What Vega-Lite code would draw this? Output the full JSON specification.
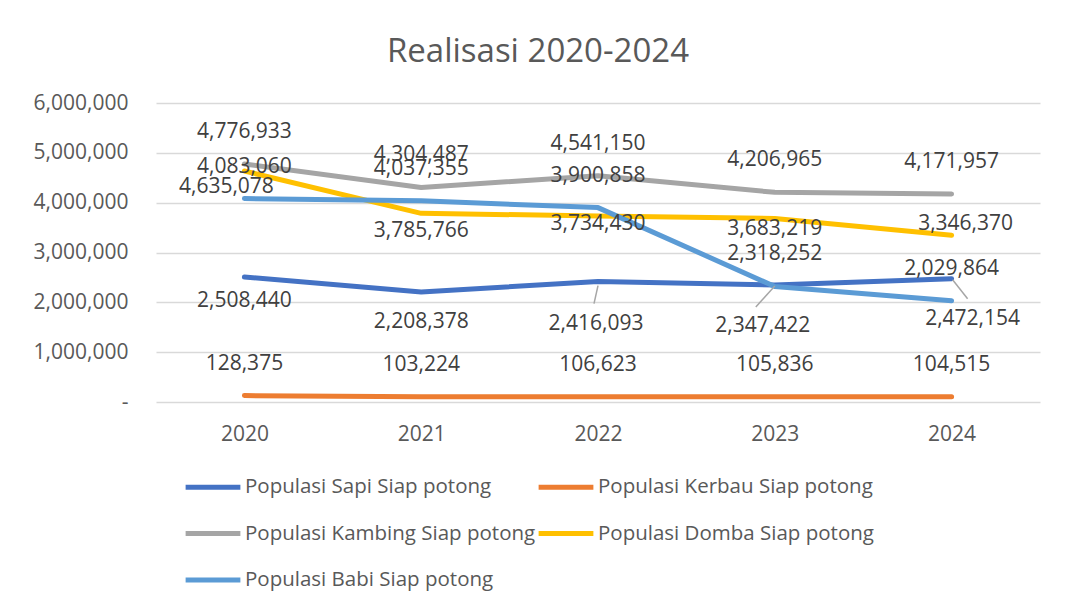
{
  "$schema": "https://vega.github.io/schema/vega-lite/v6.json",
  "width": 884,
  "height": 299,
  "autosize": "none",
  "padding": {"left": 156, "top": 103, "right": 26, "bottom": 205},
  "background": "white",
  "config": {
    "view": {"stroke": null},
    "font": "Open Sans",
    "text": {"font": "Open Sans"}
  },
  "title": {
    "text": "Realisasi 2020-2024",
    "font": "Open Sans",
    "fontSize": 33,
    "fontWeight": "normal",
    "color": "#595959",
    "anchor": "middle",
    "dx": -60,
    "dy": 44,
    "baseline": "alphabetic",
    "offset": 41
  },
  "data": {
    "values": [
      {"year": "2020", "animal": "Sapi", "series": "Populasi Sapi Siap potong", "value": 2508440},
      {"year": "2021", "animal": "Sapi", "series": "Populasi Sapi Siap potong", "value": 2208378},
      {"year": "2022", "animal": "Sapi", "series": "Populasi Sapi Siap potong", "value": 2416093},
      {"year": "2023", "animal": "Sapi", "series": "Populasi Sapi Siap potong", "value": 2347422},
      {"year": "2024", "animal": "Sapi", "series": "Populasi Sapi Siap potong", "value": 2472154},
      {"year": "2020", "animal": "Kerbau", "series": "Populasi Kerbau Siap potong", "value": 128375},
      {"year": "2021", "animal": "Kerbau", "series": "Populasi Kerbau Siap potong", "value": 103224},
      {"year": "2022", "animal": "Kerbau", "series": "Populasi Kerbau Siap potong", "value": 106623},
      {"year": "2023", "animal": "Kerbau", "series": "Populasi Kerbau Siap potong", "value": 105836},
      {"year": "2024", "animal": "Kerbau", "series": "Populasi Kerbau Siap potong", "value": 104515},
      {"year": "2020", "animal": "Kambing", "series": "Populasi Kambing Siap potong", "value": 4776933},
      {"year": "2021", "animal": "Kambing", "series": "Populasi Kambing Siap potong", "value": 4304487},
      {"year": "2022", "animal": "Kambing", "series": "Populasi Kambing Siap potong", "value": 4541150},
      {"year": "2023", "animal": "Kambing", "series": "Populasi Kambing Siap potong", "value": 4206965},
      {"year": "2024", "animal": "Kambing", "series": "Populasi Kambing Siap potong", "value": 4171957},
      {"year": "2020", "animal": "Domba", "series": "Populasi Domba Siap potong", "value": 4635078},
      {"year": "2021", "animal": "Domba", "series": "Populasi Domba Siap potong", "value": 3785766},
      {"year": "2022", "animal": "Domba", "series": "Populasi Domba Siap potong", "value": 3734430},
      {"year": "2023", "animal": "Domba", "series": "Populasi Domba Siap potong", "value": 3683219},
      {"year": "2024", "animal": "Domba", "series": "Populasi Domba Siap potong", "value": 3346370},
      {"year": "2020", "animal": "Babi", "series": "Populasi Babi Siap potong", "value": 4083060},
      {"year": "2021", "animal": "Babi", "series": "Populasi Babi Siap potong", "value": 4037355},
      {"year": "2022", "animal": "Babi", "series": "Populasi Babi Siap potong", "value": 3900858},
      {"year": "2023", "animal": "Babi", "series": "Populasi Babi Siap potong", "value": 2318252},
      {"year": "2024", "animal": "Babi", "series": "Populasi Babi Siap potong", "value": 2029864}
    ]
  },
  "encoding": {
    "x": {
      "field": "year",
      "type": "ordinal",
      "scale": {"type": "point", "padding": 0.5},
      "axis": {
        "title": null,
        "labelAngle": 0,
        "domain": false,
        "ticks": false,
        "grid": false,
        "labelFont": "Open Sans",
        "labelFontSize": 21,
        "labelColor": "#595959",
        "labelPadding": 21
      }
    },
    "y": {
      "field": "value",
      "type": "quantitative",
      "scale": {"domain": [0, 6000000], "nice": false, "zero": true},
      "axis": {
        "title": null,
        "values": [0, 1000000, 2000000, 3000000, 4000000, 5000000, 6000000],
        "labelExpr": "datum.value == 0 ? '-' : format(datum.value, ',')",
        "domain": false,
        "ticks": false,
        "gridColor": "#D9D9D9",
        "gridWidth": 1.5,
        "labelFont": "Open Sans",
        "labelFontSize": 21,
        "labelColor": "#595959",
        "labelPadding": 28
      }
    }
  },
  "layer": [
    {
      "mark": {"type": "line", "strokeWidth": 5, "strokeCap": "round", "strokeJoin": "round"},
      "encoding": {
        "color": {
          "field": "series",
          "type": "nominal",
          "sort": null,
          "scale": {
            "domain": ["Populasi Sapi Siap potong", "Populasi Kerbau Siap potong", "Populasi Kambing Siap potong", "Populasi Domba Siap potong", "Populasi Babi Siap potong"],
            "range": ["#4472C4", "#ED7D31", "#A5A5A5", "#FFC000", "#5B9BD5"]
          },
          "legend": {
            "title": null,
            "orient": "none",
            "legendX": 27,
            "legendY": 354,
            "columns": 2,
            "direction": "horizontal",
            "symbolType": "stroke",
            "symbolSize": 3000,
            "symbolStrokeWidth": 5,
            "labelFont": "Open Sans",
            "labelFontSize": 20.5,
            "labelColor": "#595959",
            "labelOffset": 2,
            "columnPadding": -8,
            "rowPadding": 5.5,
            "labelLimit": 400
          }
        }
      }
    },
    {
      "transform": [{"filter": "datum.animal == 'Kambing' || datum.animal == 'Kerbau' || datum.animal == 'Babi'"}],
      "mark": {"type": "text", "dy": -32, "fontSize": 21, "color": "#404040", "baseline": "middle", "align": "center"},
      "encoding": {"text": {"field": "value", "type": "quantitative", "format": ","}}
    },
    {
      "transform": [{"filter": "datum.animal == 'Sapi' && datum.year == '2020'"}],
      "mark": {"type": "text", "dy": 24, "fontSize": 21, "color": "#404040", "baseline": "middle", "align": "center"},
      "encoding": {"text": {"field": "value", "type": "quantitative", "format": ","}}
    },
    {
      "transform": [{"filter": "datum.animal == 'Sapi' && datum.year == '2021'"}],
      "mark": {"type": "text", "dy": 30, "fontSize": 21, "color": "#404040", "baseline": "middle", "align": "center"},
      "encoding": {"text": {"field": "value", "type": "quantitative", "format": ","}}
    },
    {
      "transform": [{"filter": "datum.animal == 'Sapi' && datum.year == '2022'"}],
      "mark": {"type": "text", "dy": 42, "dx": -2, "fontSize": 21, "color": "#404040", "baseline": "middle", "align": "center"},
      "encoding": {"text": {"field": "value", "type": "quantitative", "format": ","}}
    },
    {
      "transform": [{"filter": "datum.animal == 'Sapi' && datum.year == '2023'"}],
      "mark": {"type": "text", "dy": 41, "dx": -12, "fontSize": 21, "color": "#404040", "baseline": "middle", "align": "center"},
      "encoding": {"text": {"field": "value", "type": "quantitative", "format": ","}}
    },
    {
      "transform": [{"filter": "datum.animal == 'Sapi' && datum.year == '2024'"}],
      "mark": {"type": "text", "dy": 40, "dx": 21, "fontSize": 21, "color": "#404040", "baseline": "middle", "align": "center"},
      "encoding": {"text": {"field": "value", "type": "quantitative", "format": ","}}
    },
    {
      "transform": [{"filter": "datum.animal == 'Domba' && datum.year == '2020'"}],
      "mark": {"type": "text", "dy": 16, "dx": -18, "fontSize": 21, "color": "#404040", "baseline": "middle", "align": "center"},
      "encoding": {"text": {"field": "value", "type": "quantitative", "format": ","}}
    },
    {
      "transform": [{"filter": "datum.animal == 'Domba' && datum.year == '2021'"}],
      "mark": {"type": "text", "dy": 18, "fontSize": 21, "color": "#404040", "baseline": "middle", "align": "center"},
      "encoding": {"text": {"field": "value", "type": "quantitative", "format": ","}}
    },
    {
      "transform": [{"filter": "datum.animal == 'Domba' && datum.year == '2022'"}],
      "mark": {"type": "text", "dy": 8, "fontSize": 21, "color": "#404040", "baseline": "middle", "align": "center"},
      "encoding": {"text": {"field": "value", "type": "quantitative", "format": ","}}
    },
    {
      "transform": [{"filter": "datum.animal == 'Domba' && datum.year == '2023'"}],
      "mark": {"type": "text", "dy": 11, "fontSize": 21, "color": "#404040", "baseline": "middle", "align": "center"},
      "encoding": {"text": {"field": "value", "type": "quantitative", "format": ","}}
    },
    {
      "transform": [{"filter": "datum.animal == 'Domba' && datum.year == '2024'"}],
      "mark": {"type": "text", "dy": -11, "dx": 14, "fontSize": 21, "color": "#404040", "baseline": "middle", "align": "center"},
      "encoding": {"text": {"field": "value", "type": "quantitative", "format": ","}}
    },
    {
      "transform": [{"filter": "datum.animal == 'Sapi' && datum.year == '2022'"}],
      "mark": {"type": "rule", "color": "#A6A6A6", "strokeWidth": 1.5, "yOffset": 4, "y2Offset": 22, "x2Offset": -4},
      "encoding": {"x2": {"field": "year"}, "y2": {"field": "value"}}
    },
    {
      "transform": [{"filter": "datum.animal == 'Sapi' && datum.year == '2023'"}],
      "mark": {"type": "rule", "color": "#A6A6A6", "strokeWidth": 1.5, "yOffset": 1, "y2Offset": 22, "x2Offset": -19},
      "encoding": {"x2": {"field": "year"}, "y2": {"field": "value"}}
    },
    {
      "transform": [{"filter": "datum.animal == 'Sapi' && datum.year == '2024'"}],
      "mark": {"type": "rule", "color": "#A6A6A6", "strokeWidth": 1.5, "xOffset": 1, "yOffset": 1, "y2Offset": 20, "x2Offset": 16},
      "encoding": {"x2": {"field": "year"}, "y2": {"field": "value"}}
    }
  ]
}
